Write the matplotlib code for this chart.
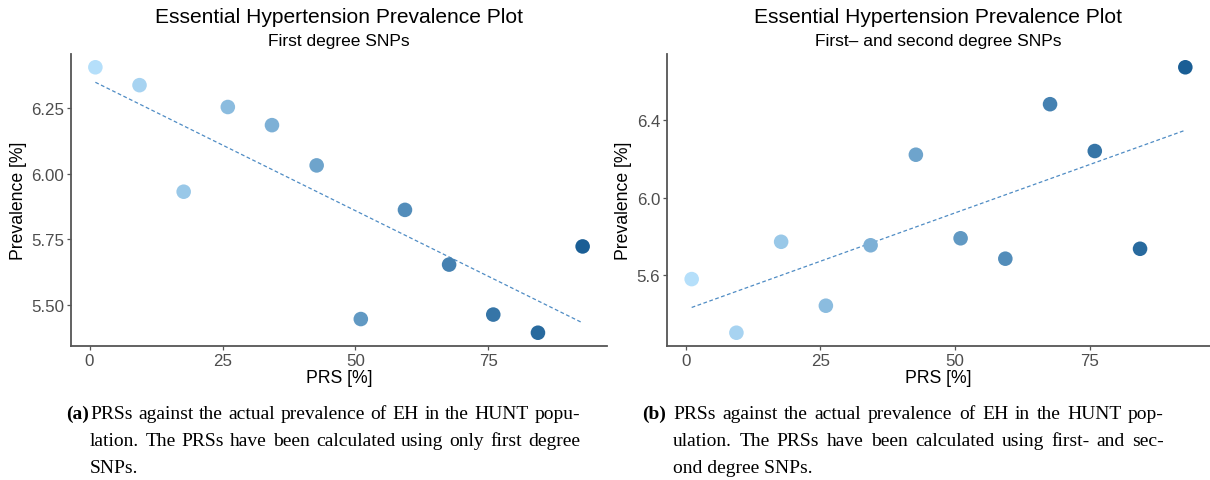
import numpy as np
import matplotlib
matplotlib.use("Agg")
import matplotlib.pyplot as plt
from matplotlib.colors import LinearSegmentedColormap

# ---- data ----
prs = [1.1, 9.4, 17.7, 26.0, 34.3, 42.7, 51.0, 59.3, 67.6, 75.9, 84.3, 92.7]
prev_first = [6.404, 6.336, 5.931, 6.253, 6.184, 6.031, 5.447, 5.862, 5.654, 5.464, 5.395, 5.723]
prev_second = [5.581, 5.305, 5.773, 5.444, 5.755, 6.221, 5.791, 5.686, 6.481, 6.240, 5.737, 6.671]

titles = ["Essential Hypertension Prevalence Plot", "Essential Hypertension Prevalence Plot"]
subtitles = ["First degree SNPs", "First\u2013 and second degree SNPs"]
xticks = [0, 25, 50, 75]
yticks_first = [5.50, 5.75, 6.00, 6.25]
yticks_second = [5.6, 6.0, 6.4]
xlabel = "PRS [%]"
ylabel = "Prevalence [%]"

cap_a = ["PRSs against the actual prevalence of EH in the HUNT popu-",
         "lation. The PRSs have been calculated using only first degree",
         "SNPs."]
cap_b = ["PRSs against the actual prevalence of EH in the HUNT pop-",
         "ulation. The PRSs have been calculated using first- and sec-",
         "ond degree SNPs."]

W, H = 1210, 481
fig = plt.figure(figsize=(W / 100, H / 100), dpi=100)
cmap = LinearSegmentedColormap.from_list("blues", ["#B5DFFA", "#1A5E95"])

def px_axes(x0, x1, y0, y1):
    return fig.add_axes([x0 / W, 1 - y1 / H, (x1 - x0) / W, (y1 - y0) / H])

def panel(ax, x, y, yticks, yfmt, title, subtitle):
    x = np.asarray(x); y = np.asarray(y)
    ax.scatter(x, y, c=x, cmap=cmap, vmin=min(x), vmax=max(x), s=110,
               edgecolors="none", zorder=3)
    k, b = np.polyfit(x, y, 1)
    xs = np.array([x.min(), x.max()])
    ax.plot(xs, k * xs + b, linestyle=(0, (3, 2)), color="#4F8CC4", lw=0.9, zorder=2)
    xr = x.max() - x.min(); yr = y.max() - y.min()
    ax.set_xlim(x.min() - 0.05 * xr, x.max() + 0.05 * xr)
    ax.set_ylim(y.min() - 0.05 * yr, y.max() + 0.05 * yr)
    ax.set_xticks(xticks)
    ax.set_xticklabels([str(t) for t in xticks])
    ax.set_yticks(yticks)
    ax.set_yticklabels([yfmt.format(t) for t in yticks])
    for s in ["top", "right"]:
        ax.spines[s].set_visible(False)
    for s in ["left", "bottom"]:
        ax.spines[s].set_color("#555555")
        ax.spines[s].set_linewidth(1.3)
    ax.tick_params(axis="both", colors="#555555", length=3, width=0.9,
                   labelsize=12.2, labelcolor="#4D4D4D", pad=2)
    for lab in ax.get_xticklabels() + ax.get_yticklabels():
        lab.set_family("Liberation Sans")
    ax.set_xlabel(xlabel, fontsize=12.7, family="Liberation Sans", labelpad=1)
    ax.set_ylabel(ylabel, fontsize=12.7, family="Liberation Sans", labelpad=3)
    ax.text(0.5, 1 + 37 / 292, title, transform=ax.transAxes, ha="center", va="center",
            fontsize=15.1, family="Liberation Sans")
    ax.text(0.5, 1 + 13 / 292, subtitle, transform=ax.transAxes, ha="center", va="center",
            fontsize=12.5, family="Liberation Sans")

ax1 = px_axes(71, 607, 55, 347)
panel(ax1, prs, prev_first, yticks_first, "{:.2f}", titles[0], subtitles[0])
ax2 = px_axes(667, 1210, 55, 347)
panel(ax2, prs, prev_second, yticks_second, "{:.1f}", titles[1], subtitles[1])

# ---- captions (justified) ----
fig.canvas.draw()
renderer = fig.canvas.get_renderer()
capfont = dict(family="Liberation Serif", fontsize=14.0)

def text_width(s):
    t = fig.text(0, 0, s, **capfont)
    w = t.get_window_extent(renderer).width
    t.remove()
    return w

def place_line(s, x0, x1, ypx, justify):
    if not justify:
        fig.text(x0 / W, 1 - ypx / H, s, ha="left", va="baseline", **capfont)
        return
    words = s.split(" ")
    widths = [text_width(w) for w in words]
    gap = (x1 - x0 - sum(widths)) / (len(words) - 1)
    x = x0
    for w, wd in zip(words, widths):
        fig.text(x / W, 1 - ypx / H, w, ha="left", va="baseline", **capfont)
        x += wd + gap

def caption(label, lines, xl, x0, x1):
    baselines = [419, 446, 473]
    fig.text(xl / W, 1 - baselines[0] / H, label, ha="left", va="baseline",
             fontweight="bold", **capfont)
    for i, (s, yb) in enumerate(zip(lines, baselines)):
        place_line(s, x0, x1, yb, justify=(i < len(lines) - 1))

caption("(a)", cap_a, 66, 90, 580)
caption("(b)", cap_b, 642, 673, 1164)

fig.savefig("out.png", dpi=100)
